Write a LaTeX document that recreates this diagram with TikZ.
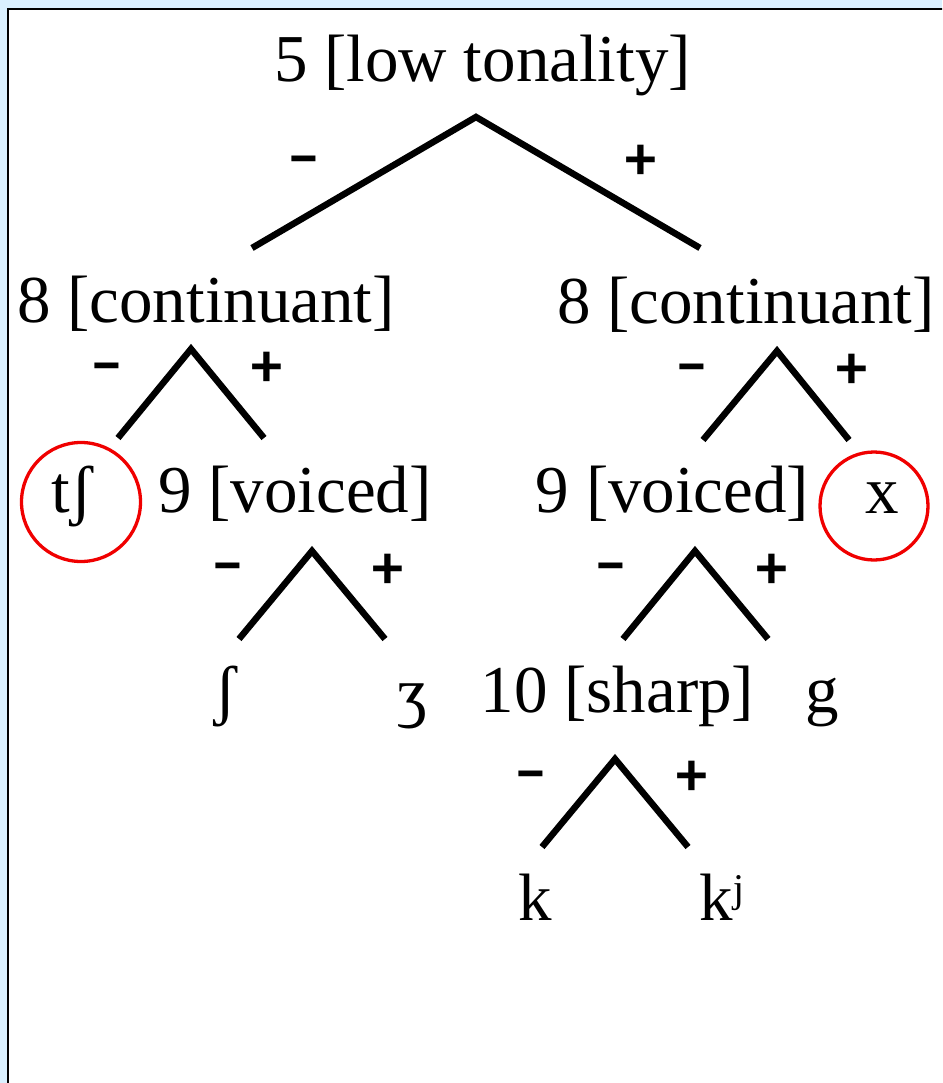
\documentclass[tikz,border=0pt]{standalone}
\usepackage{fontspec}
\setmainfont{Liberation Serif}
\newfontfamily\signfont{Carlito}
\definecolor{bgblue}{RGB}{218,240,255}
\definecolor{ringred}{RGB}{240,0,0}
\tikzset{
  lab/.style={font=\fontsize{67}{71}\selectfont, anchor=base, inner sep=0pt},
  sign/.style={font=\signfont\bfseries\fontsize{62}{66}\selectfont, anchor=base, inner sep=0pt},
  branch/.style={line width=6.5pt, line cap=butt, line join=miter},
  ring/.style={draw=ringred, line width=3.3pt, circle, inner sep=0pt},
  frame/.style={draw=black, line width=2.5pt, fill=white}
}
\begin{document}
\begin{tikzpicture}[x=1pt,y=-1pt]
\useasboundingbox (0,0) rectangle (942,1083);
\clip (0,0) rectangle (942,1083);
\fill[bgblue] (0,0) rectangle (942,1083);
\draw[frame] (8,9) rectangle (960,1100);

% level 0
\node[lab] (root) at (482.5,82) {5 [low tonality]};
\coordinate (a0) at (476,117);
\coordinate (a0l) at (252,248);
\coordinate (a0r) at (700,248);
\draw[branch] (a0l) -- (a0) -- (a0r);
\node[sign] (m0) at (304,179) {−};
\node[sign] (p0) at (641,180) {+};

% level 1
\node[lab] (c1) at (206,322) {8 [continuant]};
\node[lab] (c2) at (746,323) {8 [continuant]};

\coordinate (a1) at (191,349);
\coordinate (a1l) at (118,438);
\coordinate (a1r) at (264,438);
\draw[branch] (a1l) -- (a1) -- (a1r);
\node[sign] (m1) at (107,385) {−};
\node[sign] (p1) at (267,386) {+};

\coordinate (a2) at (777,351);
\coordinate (a2l) at (703,440);
\coordinate (a2r) at (849,440);
\draw[branch] (a2l) -- (a2) -- (a2r);
\node[sign] (m2) at (692,386) {−};
\node[sign] (p2) at (852,388) {+};

% level 2
\node[ring, minimum size=119pt] (r1) at (81,502) {};
\node[lab] (tsh) at (72,512) {tʃ};
\node[lab] (v1) at (295,512) {9 [voiced]};
\node[lab] (v2) at (672.5,512) {9 [voiced]};
\node[ring, minimum size=108pt] (r2) at (874,506) {};
\node[lab] (xx) at (882,513) {x};

\coordinate (a3) at (312,551);
\coordinate (a3l) at (239,639);
\coordinate (a3r) at (385,639);
\draw[branch] (a3l) -- (a3) -- (a3r);
\node[sign] (m3) at (228,585) {−};
\node[sign] (p3) at (388,588) {+};

\coordinate (a4) at (695,551);
\coordinate (a4l) at (623,639);
\coordinate (a4r) at (768,639);
\draw[branch] (a4l) -- (a4) -- (a4r);
\node[sign] (m4) at (611,585) {−};
\node[sign] (p4) at (772,588) {+};

% level 3
\node[lab] (sh) at (226,712) {ʃ};
\node[lab] (zh) at (412,714) {ʒ};
\node[lab] (sharp) at (617.5,712) {10 [sharp]};
\node[lab] (g) at (822,712) {g};

\coordinate (a5) at (615,759);
\coordinate (a5l) at (542,847);
\coordinate (a5r) at (688,847);
\draw[branch] (a5l) -- (a5) -- (a5r);
\node[sign] (m5) at (531,793) {−};
\node[sign] (p5) at (692,795) {+};

% level 4
\node[lab] (k) at (535,920) {k};
\node[lab, anchor=base west] (kj) at (699,920) {kʲ};
\end{tikzpicture}
\end{document}
